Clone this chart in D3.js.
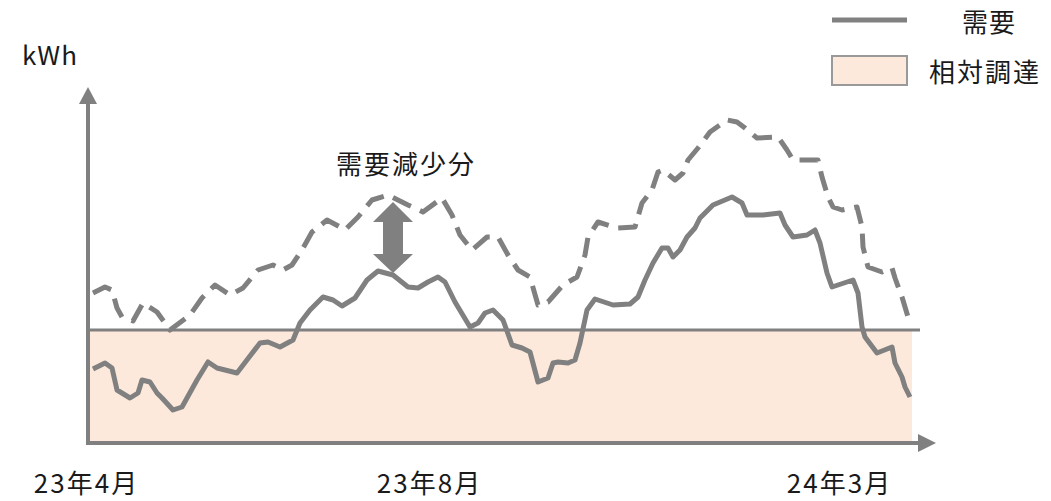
<!DOCTYPE html>
<html>
<head>
<meta charset="utf-8">
<script src="https://cdn.jsdelivr.net/npm/d3@7"></script>
<style>
  body { margin: 0; background: #fff; }
  text { font-family: "Noto Sans CJK JP", "Noto Sans", sans-serif; fill: #1a1a1a; }
</style>
</head>
<body>
<svg width="1051" height="501"></svg>
<script>
// time position (arbitrary units along the x axis) and kWh (arbitrary units)
const demandT = [3, 15, 22, 27, 40, 48, 52, 60, 67, 72, 83, 92, 107, 118, 127, 147, 170, 178, 190, 203,
  210, 220, 233, 243, 252, 265, 277, 288, 303, 318, 328, 338, 348, 355, 365, 380, 388, 395, 403, 413,
  422, 432, 440, 448, 458, 463, 468, 478, 485, 490, 497, 505, 523, 540, 548, 555, 563, 572, 578, 583,
  590, 597, 605, 610, 623, 642, 652, 657, 673, 690, 695, 703, 717, 725, 730, 737, 742, 763, 768, 772,
  775, 787, 802, 805, 812, 815, 820];
const demandV = [74, 80, 75, 53, 45, 50, 63, 61, 50, 45, 33, 36, 63, 81, 75, 70, 100, 101, 96, 103,
  120, 133, 146, 143, 137, 145, 163, 172, 168, 156, 155, 161, 166, 161, 141, 116, 120, 130, 133, 123,
  98, 95, 91, 61, 65, 80, 81, 80, 83, 100, 133, 144, 138, 139, 146, 163, 180, 195, 195, 186,
  193, 206, 215, 225, 238, 246, 240, 228, 228, 230, 218, 206, 208, 213, 200, 170, 156, 163, 150, 116,
  106, 90, 96, 80, 66, 56, 46];

const baseT = [3, 15, 22, 27, 32, 43, 53, 67, 75, 80, 100, 112, 125, 140, 153, 168, 183, 193, 202, 212,
  222, 237, 250, 255, 268, 282, 298, 318, 333, 352, 362, 370, 382, 397, 408, 418, 428, 440, 448, 458,
  473, 487, 495, 498, 508, 527, 545, 552, 562, 568, 573, 585, 593, 598, 608, 620, 637, 647, 655, 667,
  688, 697, 703, 713, 728, 732, 738, 743, 752, 767, 772, 773, 778, 792, 802, 805, 812, 818];
const baseV = [150, 156, 153, 135, 126, 122, 140, 131, 120, 113, 128, 145, 158, 148, 155, 173, 178, 173, 178, 193,
  211, 223, 216, 213, 226, 243, 248, 238, 231, 245, 228, 208, 193, 206, 206, 188, 173, 166, 138, 141,
  158, 166, 188, 206, 221, 215, 216, 240, 253, 271, 273, 263, 270, 283, 295, 311, 323, 321, 315, 305,
  306, 293, 283, 283, 283, 266, 246, 236, 233, 236, 216, 196, 176, 171, 175, 165, 146, 126];

const procurementLevel = 113;
const tickPos = [-4, 339, 749];
const tickLabels = ['23年4月', '23年8月', '24年3月'];
const legendLabels = ['需要', '相対調達'];
const yLabel = 'kWh';
const annotation = '需要減少分';
const arrowT = 303;

const svg = d3.select('svg');
const grey = '#808080';

const xScale = d3.scaleLinear().domain([-2, 845]).range([88, 935]);
const yScale = d3.scaleLinear().domain([0, 355]).range([443, 88]);

const demand = demandT.map((t, i) => ({ t, v: demandV[i] }));
const base = baseT.map((t, i) => ({ t, v: baseV[i] }));

// procurement band
svg.append('rect')
  .attr('x', xScale(-2))
  .attr('y', yScale(procurementLevel))
  .attr('width', xScale(822) - xScale(-2))
  .attr('height', yScale(0) - yScale(procurementLevel))
  .attr('fill', '#fce9db');

svg.append('line')
  .attr('x1', xScale(-2)).attr('x2', xScale(830))
  .attr('y1', yScale(procurementLevel)).attr('y2', yScale(procurementLevel))
  .attr('stroke', grey).attr('stroke-width', 3);

// axes with arrow heads
const x0 = xScale(-2), y0 = yScale(0);
svg.append('line')
  .attr('x1', x0).attr('x2', x0).attr('y1', y0 + 2).attr('y2', 100)
  .attr('stroke', grey).attr('stroke-width', 4);
svg.append('path')
  .attr('d', `M${x0 - 9},104 L${x0},87 L${x0 + 9},104 Z`)
  .attr('fill', grey);
svg.append('line')
  .attr('x1', x0 - 2).attr('x2', 922).attr('y1', y0).attr('y2', y0)
  .attr('stroke', grey).attr('stroke-width', 4);
svg.append('path')
  .attr('d', `M918,${y0 - 9} L936,${y0} L918,${y0 + 9} Z`)
  .attr('fill', grey);

const xAxis = d3.axisBottom(xScale)
  .tickValues(tickPos)
  .tickSize(0)
  .tickFormat((d, i) => tickLabels[i]);
const xAxisG = svg.append('g')
  .attr('transform', `translate(0,${y0})`)
  .call(xAxis);
xAxisG.select('.domain').remove();
xAxisG.selectAll('text')
  .attr('y', 50)
  .attr('dy', 0)
  .style('font-size', '26px')
  .style('letter-spacing', '2px')
  .style('fill', '#1a1a1a');

// lines
const line = d3.line()
  .x(d => xScale(d.t))
  .y(d => yScale(d.v));

svg.append('path')
  .datum(base)
  .attr('d', line)
  .attr('fill', 'none')
  .attr('stroke', grey)
  .attr('stroke-width', 5)
  .attr('stroke-dasharray', '20,10')
  .attr('stroke-linejoin', 'round');

svg.append('path')
  .datum(demand)
  .attr('d', line)
  .attr('fill', 'none')
  .attr('stroke', grey)
  .attr('stroke-width', 5)
  .attr('stroke-linejoin', 'round');

// double arrow for the demand reduction
const ax = xScale(arrowT);
const aTop = yScale(241), aBot = yScale(170);
svg.append('path')
  .attr('d', `M${ax},${aTop} L${ax + 20},${aTop + 20} L${ax + 10},${aTop + 20}
    L${ax + 10},${aBot - 19} L${ax + 20},${aBot - 19} L${ax},${aBot}
    L${ax - 20},${aBot - 19} L${ax - 10},${aBot - 19} L${ax - 10},${aTop + 20}
    L${ax - 20},${aTop + 20} Z`)
  .attr('fill', grey);

svg.append('text')
  .attr('x', 336).attr('y', 174)
  .style('font-size', '26px')
  .style('letter-spacing', '2px')
  .text(annotation);

svg.append('text')
  .attr('x', 22).attr('y', 65)
  .style('font-size', '26px')
  .style('letter-spacing', '1px')
  .text(yLabel);

// legend
svg.append('line')
  .attr('x1', 832).attr('x2', 907).attr('y1', 20).attr('y2', 20)
  .attr('stroke', grey).attr('stroke-width', 5);
svg.append('rect')
  .attr('x', 832).attr('y', 56).attr('width', 75).attr('height', 29)
  .attr('fill', '#fce9db').attr('stroke', '#999').attr('stroke-width', 2);
svg.append('text')
  .attr('x', 962).attr('y', 32)
  .style('font-size', '26px').style('letter-spacing', '1px')
  .text(legendLabels[0]);
svg.append('text')
  .attr('x', 929).attr('y', 82)
  .style('font-size', '26px').style('letter-spacing', '2px')
  .text(legendLabels[1]);
</script>
</body>
</html>
